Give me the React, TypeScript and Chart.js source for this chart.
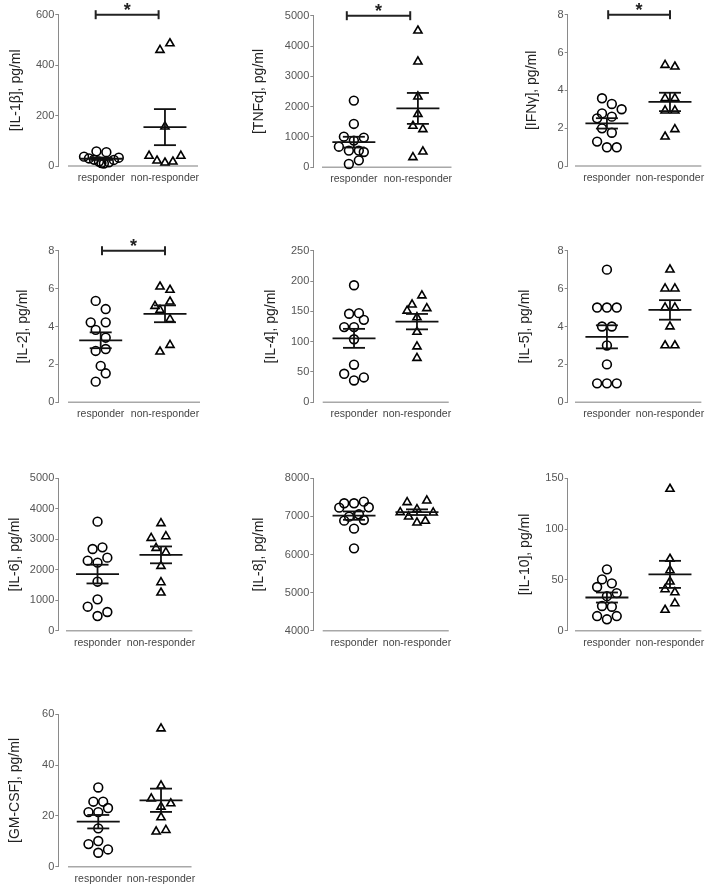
import React, { useEffect, useRef } from 'react';
import { Chart, registerables } from 'chart.js';

Chart.register(...registerables);
Chart.defaults.font.family = "'Liberation Sans', Arial, sans-serif";

// ---------------- DATA ----------------
const categories = ['responder', 'non-responder'];

const titles = [
  '[IL-1β], pg/ml',
  '[TNFα], pg/ml',
  '[IFNγ], pg/ml',
  '[IL-2], pg/ml',
  '[IL-4], pg/ml',
  '[IL-5], pg/ml',
  '[IL-6], pg/ml',
  '[IL-8], pg/ml',
  '[IL-10], pg/ml',
  '[GM-CSF], pg/ml',
];

const yMins = [0, 0, 0, 0, 0, 0, 0, 4000, 0, 0];
const yMaxs = [600, 5000, 8, 8, 250, 8, 5000, 8000, 150, 60];
const ySteps = [200, 1000, 2, 2, 50, 2, 1000, 1000, 50, 20];
const significant = [true, true, true, true, false, false, false, false, false, false];

const il1bResponder = [58, 55, 37, 30, 25, 18, 12, 10, 15, 24, 33];
const il1bResponderJitter = [-1, 1, -3.5, -2.5, -1.5, -0.5, 0, 0.5, 1.5, 2.5, 3.5];
const il1bNonResponder = [460, 486, 156, 40, 21, 13, 17, 40];
const il1bNonResponderJitter = [-1, 1, 0, -3.2, -1.6, 0, 1.6, 3.2];

const tnfResponder = [2200, 1430, 1010, 980, 680, 880, 550, 550, 505, 230, 110];
const tnfResponderJitter = [0, 0, -2, 2, -3, 0, -1, 1, 2, 1, -1];
const tnfNonResponder = [4505, 3484, 2330, 1758, 1363, 1253, 516, 330];
const tnfNonResponderJitter = [0, 0, 0, 0, -1, 1, 1, -1];

const ifnResponder = [3.58, 3.28, 3.0, 2.78, 2.61, 2.52, 1.99, 1.76, 1.29, 0.99, 0.99];
const ifnResponderJitter = [-1, 1, 3, -1, 1, -2, -1, 1, -2, 0, 2];
const ifnNonResponder = [5.34, 5.25, 3.58, 3.58, 2.93, 2.93, 1.94, 1.55];
const ifnNonResponderJitter = [-1, 1, -1, 1, -1, 1, 1, -1];

const il2Responder = [5.35, 4.92, 4.22, 4.22, 3.82, 3.41, 2.71, 2.81, 1.92, 1.53, 1.09];
const il2ResponderJitter = [-1, 1, -2, 1, -1, 1, -1, 1, 0, 1, -1];
const il2NonResponder = [6.1, 5.93, 5.31, 5.08, 4.87, 4.38, 3.02, 2.67];
const il2NonResponderJitter = [-1, 1, 1, -2, -1, 1, 1, -1];

const il4Responder = [193, 146, 147, 136, 124, 124, 104, 62, 47, 41, 36];
const il4ResponderJitter = [0, -1, 1, 2, -2, 0, 0, 0, -2, 2, 0];
const il4NonResponder = [176, 161, 155, 151, 140, 116, 92, 73];
const il4NonResponderJitter = [1, -1, 2, -2, 0, 0, 0, 0];

const il5Responder = [7, 5, 5, 5, 4, 4, 3, 2, 1, 1, 1];
const il5ResponderJitter = [0, -2, 0, 2, -1, 1, 0, 0, -2, 0, 2];
const il5NonResponder = [7, 6, 6, 5, 5, 4, 3, 3];
const il5NonResponderJitter = [0, -1, 1, -1, 1, 0, -1, 1];

const il6Responder = [3578, 2681, 2735, 2298, 2232, 2396, 1608, 1028, 788, 613, 481];
const il6ResponderJitter = [0, -1, 1, -2, 0, 2, 0, 0, -2, 2, 0];
const il6NonResponder = [3523, 3042, 3096, 2713, 2571, 2123, 1586, 1247];
const il6NonResponderJitter = [0, -2, 1, -1, 1, 0, 0, 0];

const il8Responder = [7344, 7344, 7387, 7230, 7239, 6993, 7055, 6888, 6906, 6678, 6162];
const il8ResponderJitter = [-2, 0, 2, -3, 3, -1, 1, -2, 2, 0, 0];
const il8NonResponder = [7370, 7414, 7107, 7186, 7098, 6993, 6836, 6880];
const il8NonResponderJitter = [-2, 2, -3.4, 0, 3.3, -1.7, 0, 1.7];

const il10Responder = [60.4, 50.5, 46.6, 43, 37, 34, 24.3, 23.6, 14.4, 14.4, 11.2];
const il10ResponderJitter = [0, -1, 1, -2, 2, 0, -1, 1, -2, 2, 0];
const il10NonResponder = [139.5, 70.6, 59.4, 48.3, 40.7, 37.7, 26.9, 20.4];
const il10NonResponderJitter = [0, 0, 0, 0, -1, 1, 1, -1];

const gmcsfResponder = [31.2, 25.6, 25.6, 23.1, 21.5, 21.5, 15.1, 10.1, 8.9, 6.8, 5.5];
const gmcsfResponderJitter = [0, -1, 1, 2, -2, 0, 0, 0, -2, 2, 0];
const gmcsfNonResponder = [54.4, 31.9, 26.8, 24.9, 23.6, 19.4, 13.8, 14.4];
const gmcsfNonResponderJitter = [0, 0, -2, 2, 0, 0, -1, 1];

const responderSeries = [il1bResponder, tnfResponder, ifnResponder, il2Responder, il4Responder, il5Responder, il6Responder, il8Responder, il10Responder, gmcsfResponder];
const responderJitters = [il1bResponderJitter, tnfResponderJitter, ifnResponderJitter, il2ResponderJitter, il4ResponderJitter, il5ResponderJitter, il6ResponderJitter, il8ResponderJitter, il10ResponderJitter, gmcsfResponderJitter];
const nonResponderSeries = [il1bNonResponder, tnfNonResponder, ifnNonResponder, il2NonResponder, il4NonResponder, il5NonResponder, il6NonResponder, il8NonResponder, il10NonResponder, gmcsfNonResponder];
const nonResponderJitters = [il1bNonResponderJitter, tnfNonResponderJitter, ifnNonResponderJitter, il2NonResponderJitter, il4NonResponderJitter, il5NonResponderJitter, il6NonResponderJitter, il8NonResponderJitter, il10NonResponderJitter, gmcsfNonResponderJitter];

// ---------------- LAYOUT (pixels) ----------------
const PAGE_W = 708;
const COL_LEFT = [0, 236, 472];
const ROW_TOP = [0, 230, 460, 690];
const STEP_PX = 5;

type Layout = {
  col: number; row: number; axisX: number; top: number; bottom: number;
  respX: number; nrX: number; titleX: number; xLineStart: number; right: number;
  bracket?: [number, number];
};

const layouts: Layout[] = [
  { col: 0, row: 0, axisX: 58.3, top: 14.7, bottom: 166, respX: 101.7, nrX: 165.7, titleX: 16, xLineStart: 68, right: 199, bracket: [0.91, 1.9] },
  { col: 1, row: 0, axisX: 313.3, top: 15.7, bottom: 167.3, respX: 354, nrX: 418.3, titleX: 259.3, xLineStart: 322, right: 452, bracket: [0.89, 1.88] },
  { col: 2, row: 0, axisX: 567.7, top: 14.7, bottom: 166, respX: 607.7, nrX: 672, titleX: 532, xLineStart: 575, right: 704, bracket: [1.02, 2.0] },
  { col: 0, row: 1, axisX: 58.3, top: 250.7, bottom: 402.3, respX: 100.7, nrX: 165, titleX: 23, xLineStart: 68, right: 200, bracket: [1.02, 2.0] },
  { col: 1, row: 1, axisX: 313.3, top: 250.7, bottom: 402.3, respX: 354.7, nrX: 418.7, titleX: 271, xLineStart: 322.7, right: 451 },
  { col: 2, row: 1, axisX: 567.7, top: 250.7, bottom: 402.3, respX: 607.7, nrX: 672, titleX: 525.3, xLineStart: 575, right: 704 },
  { col: 0, row: 2, axisX: 58.3, top: 478.3, bottom: 630.7, respX: 98.3, nrX: 163, titleX: 15, xLineStart: 66, right: 195 },
  { col: 1, row: 2, axisX: 313.3, top: 478.3, bottom: 630.7, respX: 354.7, nrX: 418.7, titleX: 259.3, xLineStart: 322.7, right: 451 },
  { col: 2, row: 2, axisX: 567.7, top: 478.3, bottom: 630.7, respX: 607.7, nrX: 672, titleX: 525.3, xLineStart: 575, right: 704 },
  { col: 0, row: 3, axisX: 58.3, top: 714.3, bottom: 866.7, respX: 99.3, nrX: 163.7, titleX: 15, xLineStart: 68, right: 195 },
];

function meanSem(arr: number[]) {
  const n = arr.length;
  const m = arr.reduce((a, b) => a + b, 0) / n;
  const v = arr.reduce((a, b) => a + (b - m) * (b - m), 0) / (n - 1);
  return { mean: m, sem: Math.sqrt(v) / Math.sqrt(n) };
}

function Panel({ idx }: { idx: number }) {
  const ref = useRef<HTMLCanvasElement>(null);
  const L = layouts[idx];
  const colLeft = COL_LEFT[L.col];
  const rowTop = ROW_TOP[L.row];
  const W = Math.ceil(L.right - colLeft + 8);
  const H = Math.round(L.bottom - rowTop + 28);

  useEffect(() => {
    const canvas = ref.current;
    if (!canvas) return;
    const unit = L.nrX - L.respX;
    const xMin = 1 - (L.respX - L.axisX) / unit;
    const xMax = 1 + (L.right - L.respX) / unit;
    const step = STEP_PX / unit;
    const padRight = W - (L.right - colLeft);
    const xAxisH = H - (L.bottom - rowTop);
    const resp = responderSeries[idx];
    const nonResp = nonResponderSeries[idx];
    const groups = [
      { x: 1, ...meanSem(resp) },
      { x: 2, ...meanSem(nonResp) },
    ];
    const bracket = significant[idx] ? L.bracket : undefined;

    const decor = {
      id: 'decor' + idx,
      beforeDatasetsDraw(chart: any) {
        const { ctx, chartArea } = chart;
        ctx.save();
        ctx.strokeStyle = '#a8a8a8';
        ctx.lineWidth = 1.5;
        ctx.beginPath();
        ctx.moveTo(chartArea.left + (L.xLineStart - L.axisX), chartArea.bottom);
        ctx.lineTo(chartArea.right, chartArea.bottom);
        ctx.stroke();
        ctx.restore();
      },
      afterDatasetsDraw(chart: any) {
        const { ctx } = chart;
        const xs = chart.scales.x;
        const ys = chart.scales.y;
        ctx.save();
        ctx.strokeStyle = '#111';
        ctx.lineWidth = 1.8;
        const seg = (x1: number, y1: number, x2: number, y2: number) => {
          ctx.beginPath();
          ctx.moveTo(x1, y1);
          ctx.lineTo(x2, y2);
          ctx.stroke();
        };
        groups.forEach((g) => {
          const cx = xs.getPixelForValue(g.x);
          const my = ys.getPixelForValue(g.mean);
          const hi = ys.getPixelForValue(g.mean + g.sem);
          const lo = ys.getPixelForValue(g.mean - g.sem);
          seg(cx - 21.5, my, cx + 21.5, my);
          seg(cx - 11, hi, cx + 11, hi);
          seg(cx - 11, lo, cx + 11, lo);
          seg(cx, hi, cx, lo);
        });
        if (bracket) {
          const y = ys.getPixelForValue(yMaxs[idx]);
          const x1 = xs.getPixelForValue(bracket[0]);
          const x2 = xs.getPixelForValue(bracket[1]);
          ctx.strokeStyle = '#222';
          ctx.lineWidth = 2;
          seg(x1, y, x2, y);
          seg(x1, y - 4.5, x1, y + 4.5);
          seg(x2, y - 4.5, x2, y + 4.5);
          ctx.fillStyle = '#222';
          ctx.font = "bold 18px 'Liberation Sans', Arial, sans-serif";
          ctx.textAlign = 'center';
          ctx.textBaseline = 'alphabetic';
          ctx.fillText('*', (x1 + x2) / 2, y + 1);
        }
        ctx.restore();
      },
    };

    const chart = new Chart(canvas, {
      type: 'scatter',
      data: {
        datasets: [
          {
            data: resp.map((v, i) => ({ x: 1 + responderJitters[idx][i] * step, y: v })),
            pointStyle: 'circle',
            pointRadius: 4.4,
            pointBorderWidth: 1.6,
            pointBorderColor: '#000',
            pointBackgroundColor: 'rgba(0,0,0,0)',
            clip: false,
          } as any,
          {
            data: nonResp.map((v, i) => ({ x: 2 + nonResponderJitters[idx][i] * step, y: v })),
            pointStyle: 'triangle',
            pointRadius: 4.7,
            pointBorderWidth: 1.6,
            pointBorderColor: '#000',
            pointBackgroundColor: 'rgba(0,0,0,0)',
            clip: false,
          } as any,
        ],
      },
      options: {
        responsive: false,
        animation: false,
        devicePixelRatio: 1,
        events: [],
        layout: { padding: { left: 0, top: L.top - rowTop, right: padRight, bottom: 0 } },
        plugins: { legend: { display: false }, tooltip: { enabled: false } },
        scales: {
          x: {
            type: 'linear',
            min: xMin,
            max: xMax,
            grid: { display: false, drawTicks: false },
            border: { display: false },
            afterBuildTicks: (s: any) => {
              s.ticks = [{ value: 1 }, { value: 2 }];
            },
            ticks: {
              callback: (v: any) => categories[Math.round(Number(v)) - 1],
              font: { size: 10.5 },
              color: '#444',
              padding: 6,
              maxRotation: 0,
              autoSkip: false,
            },
            afterFit: (s: any) => {
              s.height = xAxisH;
            },
          },
          y: {
            min: yMins[idx],
            max: yMaxs[idx],
            ticks: {
              stepSize: ySteps[idx],
              font: { size: 11 },
              color: '#555',
              padding: 1,
              callback: (v: any) => String(v),
            },
            grid: { drawOnChartArea: false, drawTicks: true, tickLength: 3, color: '#8a8a8a' },
            border: { color: '#8a8a8a', width: 1 },
            title: {
              display: true,
              text: titles[idx],
              font: { size: 14 },
              color: '#222',
              padding: { top: L.titleX - colLeft - 8.4, bottom: 0 },
            },
            afterFit: (s: any) => {
              s.width = L.axisX - colLeft;
            },
          },
        },
      } as any,
      plugins: [decor],
    });
    return () => chart.destroy();
  }, []);

  return (
    <canvas
      ref={ref}
      width={W}
      height={H}
      style={{ position: 'absolute', left: colLeft, top: rowTop, width: W, height: H }}
    />
  );
}

export default function App() {
  return (
    <div
      style={{
        position: 'absolute',
        left: 0,
        top: 0,
        width: PAGE_W,
        height: 884,
        overflow: 'hidden',
        background: '#fff',
      }}
    >
      {layouts.map((_, i) => (
        <Panel key={i} idx={i} />
      ))}
    </div>
  );
}
